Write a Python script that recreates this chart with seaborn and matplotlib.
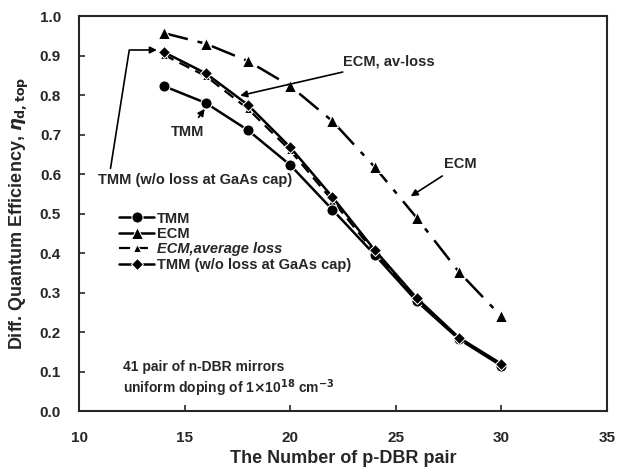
import pandas as pd
import matplotlib.pyplot as plt
import seaborn as sns

# p-DBR pair counts
pairs = [14, 16, 18, 20, 22, 24, 26, 28, 30]

# efficiencies
tmm = [0.823, 0.780, 0.711, 0.623, 0.510, 0.396, 0.278, 0.182, 0.115]
ecm = [0.957, 0.930, 0.886, 0.823, 0.734, 0.618, 0.489, 0.352, 0.240]
ecm_avloss = [0.902, 0.848, 0.765, 0.660, 0.533, 0.402, 0.280, 0.183, 0.117]
tmm_noloss = [0.909, 0.855, 0.775, 0.668, 0.542, 0.408, 0.286, 0.186, 0.120]

xticks = [10, 15, 20, 25, 30, 35]
yticks = [0.0, 0.1, 0.2, 0.3, 0.4, 0.5, 0.6, 0.7, 0.8, 0.9, 1.0]

sns.set_style("ticks")
plt.rcParams["font.family"] = ["Liberation Sans", "DejaVu Sans"]
plt.rcParams["font.weight"] = "bold"

fig = plt.figure(figsize=(6.23, 4.71), dpi=100)
ax = fig.add_axes([0.127, 0.127, 0.847, 0.839])

df = pd.DataFrame({"x": pairs, "tmm": tmm, "ecm": ecm,
                   "avl": ecm_avloss, "nol": tmm_noloss})

sns.lineplot(data=df, x="x", y="ecm", ax=ax, color="black", marker="^",
             markersize=8, linewidth=1.8, label="ECM")
ax.lines[-1].set_dashes([10, 4, 2, 4])
sns.lineplot(data=df, x="x", y="avl", ax=ax, color="black", marker="^",
             markersize=6, linewidth=1.6, label="ECM,average loss")
ax.lines[-1].set_linestyle((0, (5, 3)))
sns.lineplot(data=df, x="x", y="tmm", ax=ax, color="black", marker="o",
             markersize=8, linewidth=1.8, label="TMM")
sns.lineplot(data=df, x="x", y="nol", ax=ax, color="black", marker="D",
             markersize=6, linewidth=1.8, label="TMM (w/o loss at GaAs cap)")

ax.set_xlim(10, 35)
ax.set_ylim(0, 1.0)
ax.set_xticks(xticks)
ax.set_yticks(yticks)
ax.set_yticklabels([f"{v:.1f}" for v in yticks])
ax.tick_params(direction="in", length=4, labelsize=11, width=1.2)
ax.tick_params(axis="x", pad=14)
ax.tick_params(axis="y", pad=13)
for s in ax.spines.values():
    s.set_linewidth(1.5)
for lab in ax.get_xticklabels() + ax.get_yticklabels():
    lab.set_fontweight("bold")

ax.set_xlabel("The Number of p-DBR pair", fontsize=13, fontweight="bold",
              labelpad=4)
ax.set_ylabel(r"Diff. Quantum Efficiency, $\eta_{\mathrm{d,top}}$", fontsize=13,
              fontweight="bold", labelpad=6)

# legend in the original order
h, l = ax.get_legend_handles_labels()
order = [2, 0, 1, 3]
leg = ax.legend([h[i] for i in order], [l[i] for i in order], loc="upper left",
                bbox_to_anchor=(0.065, 0.52), frameon=False, fontsize=10.5,
                handlelength=2.4, handletextpad=0.2, labelspacing=0.1,
                borderaxespad=0)
for t in leg.get_texts():
    t.set_fontweight("bold")
leg.get_texts()[2].set_fontstyle("italic")
leg.legend_handles[1].set_linestyle("-")

arrow = dict(arrowstyle="-|>", color="black", lw=1.2, mutation_scale=10)
ax.annotate("TMM (w/o loss at GaAs cap)", xy=(13.75, 0.914), xytext=(10.9, 0.585),
            fontsize=10.5, fontweight="bold", ha="left", va="center",
            arrowprops=dict(arrow, connectionstyle="angle,angleA=81,angleB=0,rad=0",
                            relpos=(0.06, 1.0), shrinkA=1, shrinkB=1))
ax.annotate("TMM", xy=(15.95, 0.765), xytext=(15.15, 0.706), fontsize=10.5,
            fontweight="bold", ha="center", va="center",
            arrowprops=dict(arrow, shrinkA=4, shrinkB=0))
ax.annotate("ECM, av-loss", xy=(17.5, 0.797), xytext=(22.5, 0.885), fontsize=10.5,
            fontweight="bold", ha="left", va="center",
            arrowprops=dict(arrow, shrinkA=1))
ax.annotate("ECM", xy=(25.6, 0.54), xytext=(27.3, 0.625), fontsize=10.5,
            fontweight="bold", ha="left", va="center",
            arrowprops=dict(arrow, shrinkA=2))

ax.text(12.1, 0.111, "41 pair of n-DBR mirrors", fontsize=10,
        fontweight="bold", va="center")
ax.text(12.1, 0.058, r"uniform doping of 1$\times$10$^{18}$ cm$^{-3}$",
        fontsize=10, fontweight="bold", va="center")

fig.savefig("out.png", dpi=100)
